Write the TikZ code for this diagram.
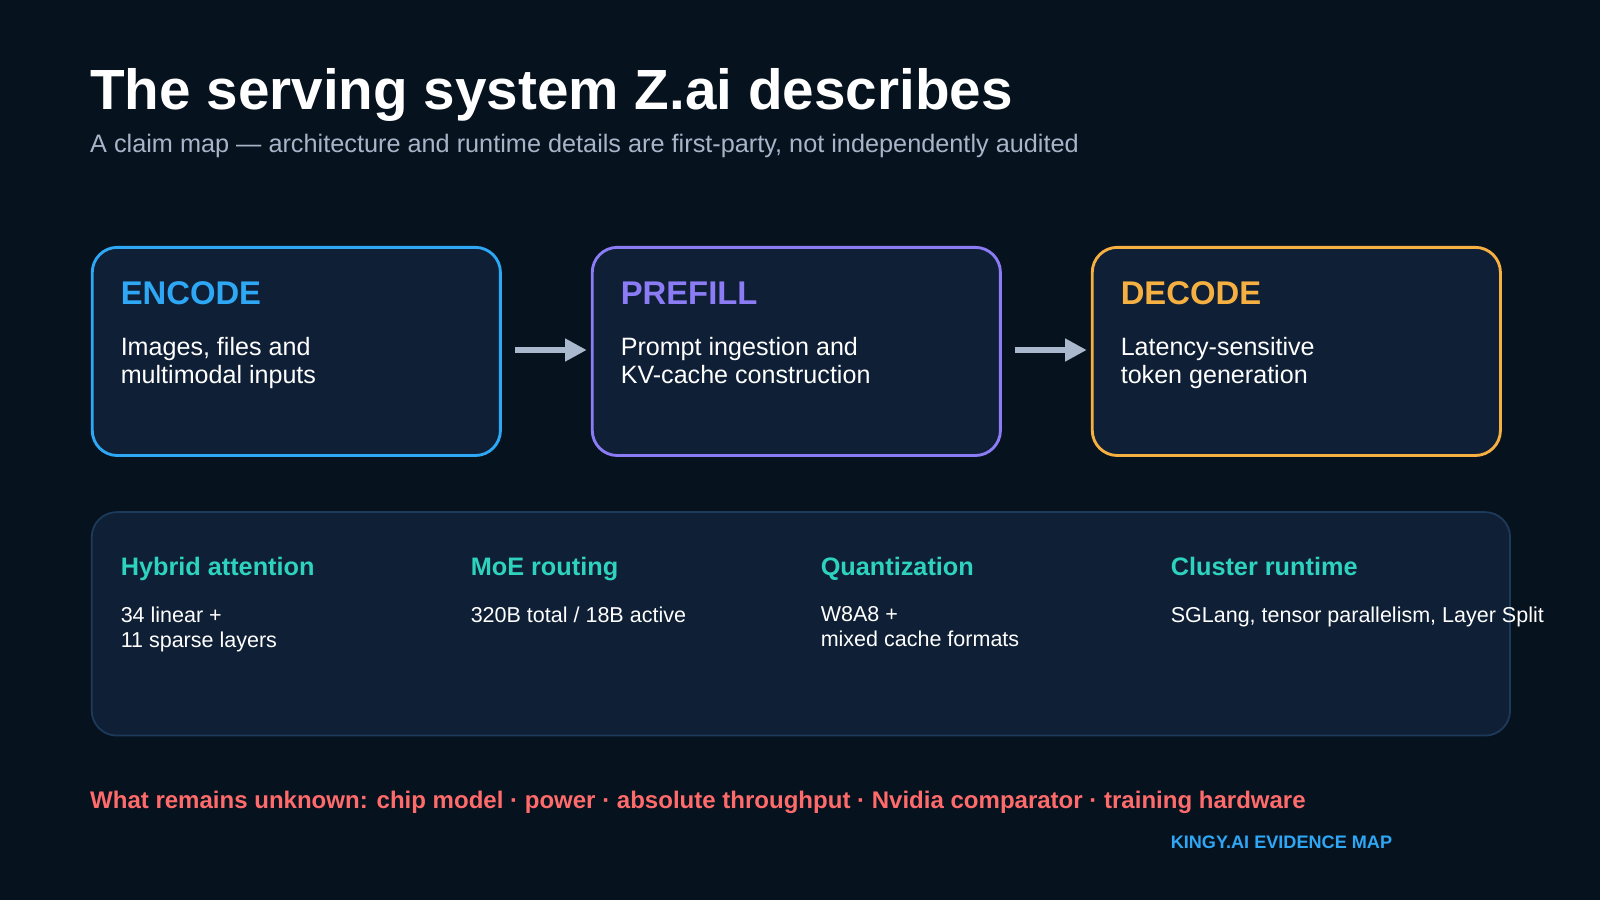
\documentclass[tikz,border=0pt]{standalone}
\usepackage{fontspec}
\setmainfont{Liberation Sans}
\usetikzlibrary{positioning,arrows.meta}
\definecolor{bg}{HTML}{07121F}
\definecolor{card}{HTML}{0F1F35}
\definecolor{encc}{HTML}{2EA7F5}
\definecolor{prec}{HTML}{8B7CF6}
\definecolor{decc}{HTML}{F5B041}
\definecolor{teal}{HTML}{2ED3C0}
\definecolor{warn}{HTML}{FF6B6B}
\definecolor{muted}{HTML}{A8B4C8}
\definecolor{arrc}{HTML}{A9B8CC}
\definecolor{edge}{HTML}{1E3A5A}
\begin{document}
\begin{tikzpicture}[x=0.02cm,y=-0.02cm,
  stage/.style = {draw, line width=1.6pt, fill=card, rounded corners=14pt},
  head/.style = {anchor=base west, font=\fontsize{18.3}{21}\selectfont\bfseries},
  body/.style = {anchor=north west, align=left, text=white, inner sep=0pt,
    font=\fontsize{14}{16}\selectfont},
  topic/.style = {anchor=base west, text=teal, font=\fontsize{14.1}{16}\selectfont\bfseries},
  fact/.style = {anchor=north west, align=left, text=white, inner sep=0pt,
    font=\fontsize{12}{14.2}\selectfont},
  flow/.style = {draw=arrc, line width=3pt, -{Triangle[length=12pt,width=12pt]}}]
\fill[bg] (0,0) rectangle (1568,882);
\node[anchor=base west, text=white, inner sep=0pt, font=\fontsize{31.6}{36}\selectfont\bfseries] (title) at (88,107) {The serving system Z.ai describes};
\node[anchor=base west, text=muted, inner sep=0pt, font=\fontsize{14.1}{16}\selectfont] (sub) at (88,149) {A claim map — architecture and runtime details are first-party, not independently audited};
% stages
\node[stage, draw=encc, minimum width=400*0.02cm, minimum height=204*0.02cm, anchor=north west] (enc) at (89,241) {};
\node[stage, draw=prec, minimum width=400*0.02cm, minimum height=204*0.02cm, anchor=north west] (pre) at (579,241) {};
\node[stage, draw=decc, minimum width=400*0.02cm, minimum height=204*0.02cm, anchor=north west] (dec) at (1069,241) {};
\node[head, text=encc, inner sep=0pt] (encT) at (118,298) {ENCODE};
\node[body] (encB) at (118,330) {Images, files and\\multimodal inputs};
\node[head, text=prec, inner sep=0pt] (preT) at (608,298) {PREFILL};
\node[body] (preB) at (608,330) {Prompt ingestion and\\KV-cache construction};
\node[head, text=decc, inner sep=0pt] (decT) at (1098,298) {DECODE};
\node[body] (decB) at (1098,330) {Latency-sensitive\\token generation};
\coordinate (a1) at (505,343); \coordinate (a2) at (575,343);
\coordinate (b1) at (995,343); \coordinate (b2) at (1065,343);
\draw[flow] (a1) -- (a2);
\draw[flow] (b1) -- (b2);
% runtime details
\node[draw=edge, line width=1pt, fill=card, rounded corners=14pt, minimum width=1390*0.02cm, minimum height=219*0.02cm, anchor=north west] (rt) at (89,501) {};
\node[topic, inner sep=0pt] (t1) at (118,564) {Hybrid attention};
\node[fact] (f1) at (118,594) {34 linear +\\11 sparse layers};
\node[topic, inner sep=0pt] (t2) at (461,564) {MoE routing};
\node[fact] (f2) at (461,594) {320B total / 18B active};
\node[topic, inner sep=0pt] (t3) at (804,564) {Quantization};
\node[fact] (f3) at (804,594) {W8A8 +\\mixed cache formats};
\node[topic, inner sep=0pt] (t4) at (1147,564) {Cluster runtime};
\node[fact] (f4) at (1147,594) {SGLang, tensor parallelism, Layer Split};
\node[anchor=base west, text=warn, inner sep=0pt, font=\fontsize{13.4}{15}\selectfont\bfseries] (unk) at (88,792) {What remains unknown: chip model · power · absolute throughput · Nvidia comparator · training hardware};
\node[anchor=base west, text=encc, inner sep=0pt, font=\fontsize{10.1}{12}\selectfont\bfseries] (brand) at (1147,832) {KINGY.AI EVIDENCE MAP};
\end{tikzpicture}
\end{document}
